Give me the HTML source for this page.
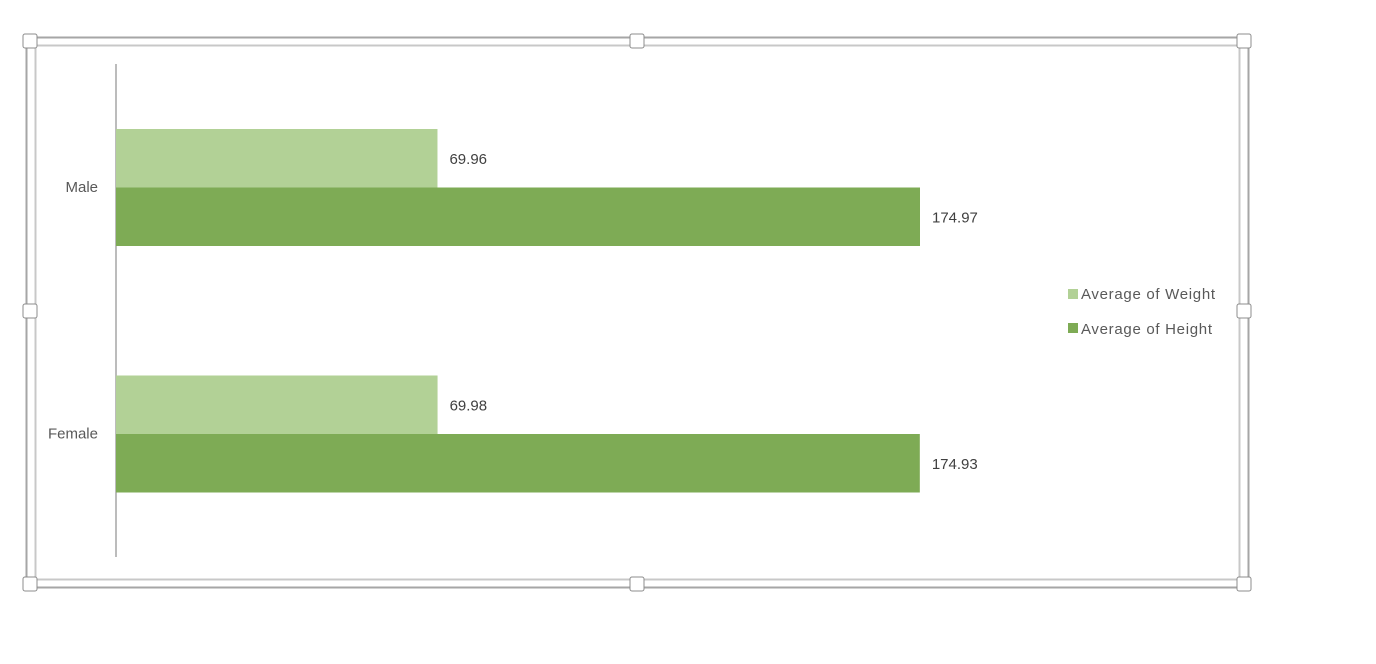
<!DOCTYPE html>
<html><head><meta charset="utf-8"><style>
body{margin:0;background:#fff;width:1376px;height:664px;overflow:hidden;font-family:"Liberation Sans",sans-serif}
</style></head><body>
<svg width="1376" height="664" style="position:absolute;left:0;top:0">
<g>
<rect x="26.5" y="37.5" width="1222" height="550" fill="none" stroke="#a6a6a6" stroke-width="2"/>
<rect x="35.5" y="45.5" width="1204" height="534" fill="none" stroke="#c8c8c8" stroke-width="2"/>
</g>
<g id="handles"></g>
<line x1="116" y1="64" x2="116" y2="557" stroke="#a6a6a6" stroke-width="1.5"/>
<g id="bars"></g>
<g font-size="15" fill="#595959" letter-spacing="0.7">
<rect x="1068" y="289" width="10" height="10" fill="#b2d196"/>
<text x="1081" y="299">Average of Weight</text>
<rect x="1068" y="323" width="10" height="10" fill="#7eab55"/>
<text x="1081" y="334">Average of Height</text>
</g>
</svg>
<script>
const categories=["Male","Female"];
const weightValues=[69.96,69.98];
const heightValues=[174.97,174.93];
const seriesColors=["#b2d196","#7eab55"];
const NS="http://www.w3.org/2000/svg";
const x0=116,pxPerUnit=804/174.97,top0=64,band=246.5;
function xScale(v){return x0+v*pxPerUnit;}
function bandY(i){return top0+i*band;}
const g=document.getElementById('bars');
function mk(t,a,p){const e=document.createElementNS(NS,t);for(const k in a)e.setAttribute(k,a[k]);p.appendChild(e);return e;}
categories.forEach((c,i)=>{
  const y=bandY(i);
  const lbl=mk('text',{x:98,y:y+128,'text-anchor':'end','font-size':15,fill:'#595959'},g);
  lbl.textContent=c;
  
  
  [weightValues[i],heightValues[i]].forEach((v,s)=>{
    const by=y+65+s*58.5;
    const r=mk('rect',{x:x0,y:by,width:xScale(v)-x0,height:58.5,fill:seriesColors[s]},g);
    
    
    const t=mk('text',{x:xScale(v)+12,y:by+35,'font-size':15,fill:'#404040'},g);
    t.textContent=v.toFixed(2);
    
    
  });
});
const hg=document.getElementById('handles');
[[30,41],[637,41],[1244,41],[30,311],[1244,311],[30,584],[637,584],[1244,584]].forEach((p,i)=>{
  const h=mk('rect',{x:p[0]-7,y:p[1]-7,width:14,height:14,rx:2,fill:'#fff',stroke:'#8c8c8c','stroke-width':1},hg);
  
  
});
</script>
</body></html>
